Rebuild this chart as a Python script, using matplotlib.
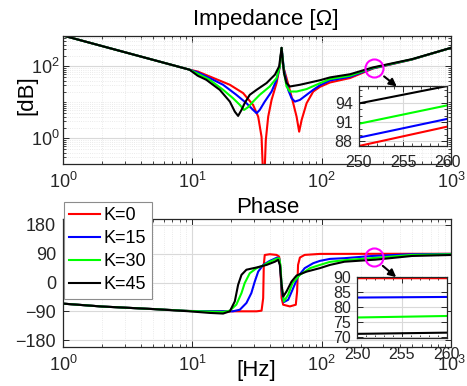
import matplotlib
matplotlib.use('Agg')
import matplotlib.pyplot as plt
from matplotlib.ticker import LogLocator, NullFormatter, MultipleLocator, FixedLocator

plt.rcParams['font.family'] = ['Liberation Sans', 'DejaVu Sans']
plt.rcParams['mathtext.fontset'] = 'custom'
plt.rcParams['mathtext.rm'] = 'Liberation Sans'
plt.rcParams['mathtext.it'] = 'Liberation Sans:italic'

# ---------------- data ----------------
labels = ['K=0', 'K=15', 'K=30', 'K=45']
colors = ['#ff0000', '#0000ff', '#00ff00', '#000000']

# impedance magnitude [Ohm] vs frequency [Hz]
f_mag_k0 = [1, 2, 5, 7, 9.5, 11, 13.6, 19.5, 24.7, 29.5, 32.3, 34.3, 35.7, 37.0, 38.6, 41.0, 44.8, 47.5, 49.0,
            50.4, 53.5, 58.5, 64.0, 67.0, 70.0, 76.5, 86.1, 97, 116, 166, 230, 250, 260, 500, 1000]
mag_k0 = [720, 367, 151, 109, 81, 72, 52.6, 30.8, 18.1, 8.5, 4.0, 1.1, 0.03, 0.9, 4.0, 11.7, 34.4, 100, 327,
          100, 47.4, 14.5, 4.0, 1.53, 3.24, 9.5, 20, 27, 35.7, 47.5, 77, 87.3, 90.3, 155, 327]

f_mag_k15 = [1, 2, 5, 7, 9.5, 11, 13.6, 17.3, 21.9, 26.2, 29.5, 31.4, 33.2, 36.3, 41.0, 44.8, 47.5, 49.0,
             51.1, 55.1, 58.5, 62.1, 67.9, 76.5, 86.1, 97, 116, 166, 230, 250, 260, 500, 1000]
mag_k15 = [720, 367, 151, 109, 81, 68, 47.4, 30.8, 16.2, 9.5, 6.17, 5.0, 6.17, 10.5, 20, 42.5, 100, 327,
           80.9, 22.3, 13.1, 10.5, 11.7, 16.2, 22.3, 29.8, 40.6, 51.5, 80, 88.6, 91.5, 156, 327]

f_mag_k30 = [1, 2, 5, 7, 9.5, 11, 13.6, 17.3, 20.6, 23.3, 25.1, 27.0, 29.5, 33.2, 39.7, 44.8, 47.5, 49.0,
             51.1, 53.5, 56.8, 64.0, 76.5, 97, 116, 166, 230, 250, 260, 500, 1000]
mag_k30 = [720, 367, 151, 109, 81, 62.5, 42.5, 22.3, 13.1, 8.5, 6.17, 7.34, 10.5, 16.2, 27.6, 47.4, 100, 327,
           72.4, 27.6, 20, 20, 23.4, 34, 44.5, 55, 83, 90.75, 93.6, 157, 327]

f_mag_k45 = [1, 2, 5, 7, 9.5, 11, 12.8, 16.3, 19.5, 21.3, 22.6, 24.0, 25.4, 27.8, 31.4, 37.5, 43.5, 46.9, 49.0,
             51.1, 53.5, 56.8, 67.9, 97, 116, 166, 230, 250, 260, 500, 1000]
mag_k45 = [720, 367, 151, 109, 81, 55, 42.5, 22.3, 10.5, 5.53, 4.2, 6.17, 9.5, 16.2, 22.3, 34.4, 58.6, 100, 327,
           65.5, 34.4, 27.6, 30.8, 41.2, 49.3, 60.5, 86, 93.9, 96.6, 159, 327]

# phase [deg] vs frequency [Hz]
f_ph_k0 = [1, 2, 5, 9.5, 20, 31.4, 34.3, 35.3, 35.7, 36.3, 39.7, 44.8, 46.9, 48.0, 49.0, 50.4, 56.8,
           63.1, 64.6, 65.7, 67.9, 73.9, 97, 150, 250, 260, 500, 1000]
ph_k0 = [-66, -75, -83, -89, -90, -90, -88, -49, 55, 86, 88.4, 86.3, 81, 44.8, -48.6, -69.4, -74.7,
         -69.4, -28, 55, 78, 86.3, 89.4, 89.5, 89.7, 89.7, 89.8, 89.8]

f_ph_k15 = [1, 2, 5, 9.5, 20.6, 23.3, 26.2, 28.6, 30.4, 32.3, 35.3, 39.7, 45.2, 46.9, 48.0, 49.2, 51.1,
            55.1, 59.5, 65.7, 73.9, 86.1, 97, 116, 150, 250, 260, 500, 1000]
ph_k15 = [-66, -75, -83, -89, -90, -85, -64, -33, 3, 34, 55, 67.6, 77.9, 76, 44.8, -28, -61,
          -54, -22.7, 18.7, 44.8, 60.4, 67.6, 73.8, 76, 83.2, 83.4, 88.4, 89.4]

f_ph_k30 = [1, 2, 5, 9.5, 17.3, 19.5, 21.9, 24.0, 25.4, 27.8, 31.4, 35.3, 39.7, 44.8, 46.9, 48.0, 49.2,
            51.1, 55.1, 59.5, 67.9, 81.5, 97, 116, 150, 250, 260, 500, 1000]
ph_k30 = [-66, -75, -83, -89, -92, -88, -69, -33, -2, 29, 45, 53, 65, 74, 76, 55, -17,
          -59, -38, -2, 24, 45, 55, 64.5, 69.8, 76.5, 77, 86.3, 88.4]

f_ph_k45 = [1, 2, 5, 9.5, 13.6, 17.3, 19.5, 21.3, 22.6, 24.0, 26.2, 31.4, 37.5, 43.5, 46.1, 47.5, 49.0,
            50.4, 53.5, 58.5, 64.0, 76.5, 97, 116, 150, 250, 260, 500, 1000]
ph_k45 = [-66, -75, -83, -90, -95, -97, -90, -59, -7, 24, 40, 47, 55, 65, 71, 55, -7,
          -44, -28, 3, 22, 34, 45, 55, 65, 71, 71.4, 83, 86]

mag_f = [f_mag_k0, f_mag_k15, f_mag_k30, f_mag_k45]
mag_v = [mag_k0, mag_k15, mag_k30, mag_k45]
ph_f = [f_ph_k0, f_ph_k15, f_ph_k30, f_ph_k45]
ph_v = [ph_k0, ph_k15, ph_k30, ph_k45]

# zoom marker positions
zoom_f = 255
zoom_mag = 90
zoom_phase = 81

# ---------------- figure ----------------
fig = plt.figure(figsize=(4.67, 3.86), dpi=100)
ax1 = fig.add_axes([0.1349, 0.5764, 0.8308, 0.3316])
ax2 = fig.add_axes([0.1349, 0.1023, 0.8308, 0.3316])

TC = '#262626'


def style(ax, minor_grid=True):
    for s in ax.spines.values():
        s.set_color(TC)
        s.set_linewidth(0.9)
    ax.tick_params(which='both', direction='in', top=True, right=True, colors=TC, labelcolor=TC)
    ax.tick_params(which='major', length=4, width=0.7)
    ax.tick_params(which='minor', length=2.2, width=0.6)
    ax.grid(True, which='major', color='#d9d9d9', lw=0.8)
    if minor_grid:
        ax.grid(True, which='minor', color='#e3e3e3', lw=0.6, ls=':')
    ax.set_axisbelow(True)


lw = 1.5
for fv, mv, c, lab in zip(mag_f, mag_v, colors, labels):
    ax1.plot(fv, mv, color=c, lw=lw, label=lab)
for fv, pv, c, lab in zip(ph_f, ph_v, colors, labels):
    ax2.plot(fv, pv, color=c, lw=lw, label=lab)

for ax in (ax1, ax2):
    ax.set_xscale('log')
    ax.set_xlim(1, 1000)
    ax.xaxis.set_major_locator(LogLocator(base=10, numticks=10))
    ax.xaxis.set_minor_locator(LogLocator(base=10, subs=range(2, 10), numticks=20))
    ax.xaxis.set_minor_formatter(NullFormatter())
    style(ax)
    ax.tick_params(axis='x', which='major', labelsize=13, pad=6)

ax1.set_yscale('log')
ax1.set_ylim(0.2, 720)
ax1.yaxis.set_major_locator(FixedLocator([1, 100]))
ax1.yaxis.set_minor_locator(LogLocator(base=10, subs=range(1, 10), numticks=20))
ax1.yaxis.set_minor_formatter(NullFormatter())
ax1.tick_params(axis='y', which='major', labelsize=13, pad=2.5)
ax1.set_title('Impedance [Ω]', fontsize=16, x=0.523, pad=7.5, color='k')
ax1.set_ylabel('[dB]', fontsize=16, va='center', color='k')
ax1.yaxis.set_label_coords(-0.094, 0.535)

ax2.set_ylim(-200, 200)
ax2.set_yticks([-180, -90, 0, 90, 180])
ax2.tick_params(axis='y', which='major', labelsize=13, pad=5)
ax2.set_title('Phase', fontsize=16, x=0.527, pad=4, color='k')
ax2.set_xlabel('[Hz]', fontsize=16, color='k')
ax2.xaxis.set_label_coords(0.499, -0.105)

leg = ax2.legend(loc='upper left', bbox_to_anchor=(0.0026, 1.129), borderaxespad=0, fontsize=13,
                 frameon=True, fancybox=False, edgecolor='#8c8c8c', framealpha=1,
                 handlelength=1.7, handletextpad=0.2, borderpad=0.3, labelspacing=0.33)
leg.get_frame().set_linewidth(0.8)

# zoom markers and arrows
ax1.plot([zoom_f], [zoom_mag], 'o', mfc='none', mec='#ff00ff', ms=13, mew=1.5, zorder=5)
ax2.plot([zoom_f], [zoom_phase], 'o', mfc='none', mec='#ff00ff', ms=13, mew=1.5, zorder=5)
arrow = dict(arrowstyle='-|>', color='k', lw=1.5, mutation_scale=11, shrinkA=0, shrinkB=0)
ax1.annotate('', xy=(381, 27.6), xytext=(304, 52.6), arrowprops=arrow, zorder=6)
ax2.annotate('', xy=(377, 16.8), xytext=(297, 52), arrowprops=arrow, zorder=6)

# insets
ins1 = fig.add_axes([0.7687, 0.6218, 0.189, 0.1554])
ins2 = fig.add_axes([0.7651, 0.1251, 0.1914, 0.158])
for fv, mv, c in zip(mag_f, mag_v, colors):
    ins1.plot(fv, mv, color=c, lw=lw)
for fv, pv, c in zip(ph_f, ph_v, colors):
    ins2.plot(fv, pv, color=c, lw=lw)

ins1.set_xlim(250, 260)
ins1.set_ylim(87.3, 96.6)
ins1.set_yticks([88, 91, 94])
ins2.set_xlim(250, 260)
ins2.set_ylim(69.7, 90.2)
ins2.set_yticks([70, 75, 80, 85, 90])
for ins in (ins1, ins2):
    ins.set_facecolor('white')
    ins.set_xticks([250, 255, 260])
    ins.xaxis.set_minor_locator(MultipleLocator(1))
    style(ins, minor_grid=False)
    ins.tick_params(axis='x', which='major', labelsize=11.5, pad=6.5)
    ins.tick_params(axis='y', which='major', labelsize=11.5, pad=4.5)
ins1.yaxis.set_minor_locator(MultipleLocator(1))

fig.savefig('out.png', dpi=100)
